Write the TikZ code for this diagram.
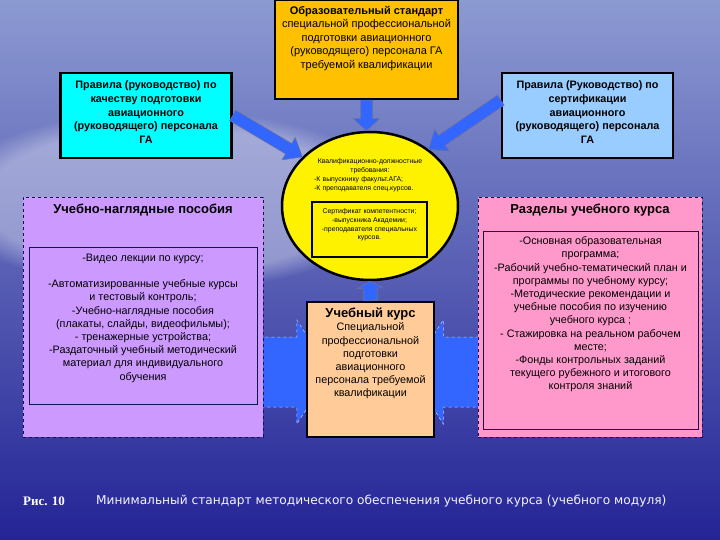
\documentclass[tikz,border=0pt]{standalone}
\usepackage{fontspec}
\setmainfont{Liberation Sans}
\newfontfamily\capfont{DejaVu Sans}
\newfontfamily\figfont{Liberation Serif}
\usetikzlibrary{positioning,calc,shapes.geometric,fadings}

\definecolor{bgtop}{RGB}{140,154,210}
\definecolor{bgmid}{RGB}{82,96,196}
\definecolor{bgbot}{RGB}{36,36,150}
\definecolor{arrblue}{RGB}{51,102,255}
\definecolor{stdorange}{RGB}{255,192,0}
\definecolor{qualcyan}{RGB}{0,255,255}
\definecolor{certblue}{RGB}{153,204,255}
\definecolor{aidlilac}{RGB}{204,153,255}
\definecolor{secpink}{RGB}{255,153,204}
\definecolor{coursepeach}{RGB}{255,204,153}
\definecolor{edgenavy}{RGB}{20,20,70}

\pgfdeclarelayer{sky}
\pgfdeclarelayer{behind}
\pgfsetlayers{sky,behind,main}

\tikzset{
  solidbox/.style={draw=black, line width=2.5pt, inner sep=0pt},
  dashbox/.style={draw=edgenavy, dashed, line width=0.8pt, inner sep=0pt},
  innerbox/.style={draw=edgenavy, line width=0.8pt, inner sep=0pt},
  boxtext/.style={align=center, inner sep=0pt, font=\fontsize{10.8}{13.2}\selectfont},
  ruletext/.style={align=center, inner sep=0pt, font=\bfseries\fontsize{10.8}{13.7}\selectfont},
  titletext/.style={align=center, inner sep=0pt, font=\bfseries\fontsize{13}{15}\selectfont},
  smalltext/.style={inner sep=0pt, font=\fontsize{6.9}{8.8}\selectfont},
  arrowfill/.style={fill=arrblue, draw=edgenavy!60, line width=0.5pt},
  sidearrow/.style={fill=arrblue, draw=white!70!arrblue, dashed, line width=0.5pt},
}

% from, to, shaft half width, head half width, head length
\newcommand\blockarrow[6][arrowfill]{%
  \coordinate (hb) at ($(#3)!#6!(#2)$);
  \filldraw[#1] ($(#2)!#4!90:(#3)$) -- ($(hb)!#4!90:(#3)$) -- ($(hb)!#5!90:(#3)$) -- (#3)
    -- ($(hb)!#5!-90:(#3)$) -- ($(hb)!#4!-90:(#3)$) -- ($(#2)!#4!-90:(#3)$) -- cycle;}

\begin{document}
\begin{tikzpicture}[x=1pt,y=-1pt]
\useasboundingbox (0,0) rectangle (720,540);
\begin{pgfonlayer}{sky}
\clip (0,0) rectangle (720,540);
\fill[top color=bgtop, middle color=bgmid, bottom color=bgbot] (0,0) rectangle (720,540);
\fill[white, opacity=0.35, path fading=circle with fuzzy edge 20 percent] (170,200) ellipse (230 and 90);
\end{pgfonlayer}

\node[solidbox, fill=stdorange, minimum width=183pt, minimum height=99pt] (std) at (366.5,49.5) {};
\node[solidbox, fill=qualcyan, minimum width=171pt, minimum height=85pt] (qual) at (146,115.5) {};
\node[solidbox, fill=certblue, minimum width=171pt, minimum height=85pt] (cert) at (587.5,115.5) {};
\node[ellipse, draw=black, line width=2.5pt, fill=yellow, minimum width=176pt, minimum height=148pt, inner sep=0pt] (req) at (370,206) {};
\node[innerbox, draw=black, line width=1.5pt, minimum width=115pt, minimum height=55pt] (certif) at (369.5,229.5) {};
\node[dashbox, fill=aidlilac, minimum width=240pt, minimum height=240pt] (aids) at (143,317) {};
\node[innerbox, minimum width=228pt, minimum height=157pt] (aidlist) at (143,325.5) {};
\node[dashbox, fill=secpink, minimum width=224pt, minimum height=240pt] (sect) at (590,317) {};
\node[innerbox, minimum width=215pt, minimum height=198pt] (sectlist) at (590.5,330) {};
\node[solidbox, fill=coursepeach, minimum width=127pt, minimum height=135pt] (course) at (370.5,369.5) {};

% side arrows, heads hidden under the course box
\begin{pgfonlayer}{behind}
\coordinate (ltail) at ($(aids.east)+(-10,55)$);
\coordinate (ltip) at ($(course.west)+(25,2.5)$);
\coordinate (rtail) at ($(sect.west)+(10,55)$);
\coordinate (rtip) at ($(course.east)+(-25,2.5)$);
\blockarrow[sidearrow]{ltail}{ltip}{35pt}{52pt}{34pt}
\blockarrow[sidearrow]{rtail}{rtip}{35pt}{52pt}{33pt}
\end{pgfonlayer}

\blockarrow{std.south}{std.south |- req.north}{6pt}{13pt}{12pt}
\blockarrow{qual.east}{req.144}{6pt}{13pt}{16pt}
\blockarrow{cert.170}{req.44}{6pt}{13pt}{16pt}
\blockarrow{course.north}{req.south}{7pt}{13pt}{7pt}

\node[boxtext, font=\fontsize{11}{13.5}\selectfont, below=7pt of std.north] (stdtext) {\textbf{Образовательный стандарт}\\специальной профессиональной\\подготовки авиационного\\(руководящего) персонала ГА\\требуемой квалификации};
\node[ruletext, below=9pt of qual.north] (qualtext) {Правила (руководство) по\\качеству подготовки\\авиационного\\(руководящего) персонала\\ГА};
\node[ruletext, below=9pt of cert.north] (certtext) {Правила (Руководство) по\\сертификации\\авиационного\\(руководящего) персонала\\ГА};
\node[smalltext, text width=112pt, below=28pt of req.north] (reqtext) {\parindent=0pt\centering Квалификационно-должностные\\требования:\par\raggedright -К выпускнику факульт.АГА;\\-К преподавателя спец.курсов.\par};
\node[smalltext, align=center, below=7pt of certif.north] (certiftext) {Сертификат компетентности;\\-выпускника Академии;\\-преподавателя специальных\\курсов.};
\node[titletext, below=7pt of aids.north] (aidstitle) {Учебно-наглядные пособия};
\node[boxtext, below=7pt of aidlist.north] (aidstext) {-Видео лекции по курсу;\\[13.2pt]-Автоматизированные учебные курсы\\и тестовый контроль;\\-Учебно-наглядные пособия\\(плакаты, слайды, видеофильмы);\\- тренажерные устройства;\\-Раздаточный учебный методический\\материал для индивидуального\\обучения};
\node[titletext, below=7pt of sect.north] (secttitle) {Разделы учебного курса};
\node[boxtext, below=6pt of sectlist.north] (secttext) {-Основная образовательная\\программа;\\-Рабочий  учебно-тематический план и\\программы по учебному курсу;\\-Методические рекомендации и\\учебные пособия по изучению\\учебного курса ;\\- Стажировка на реальном рабочем\\месте;\\-Фонды контрольных заданий\\текущего рубежного и итогового\\контроля знаний};
\node[boxtext, below=7pt of course.north] (coursetext) {{\bfseries\fontsize{13}{15}\selectfont Учебный курс}\\Специальной\\профессиональной\\подготовки\\авиационного\\персонала требуемой\\квалификации};

\node[font=\figfont\bfseries\fontsize{13}{15}\selectfont, text=white, anchor=west, inner sep=0pt] (fignum) at (23,501) {Рис. 10};
\node[font=\capfont\fontsize{12.2}{14}\selectfont, text=white!90!bgtop, anchor=west, inner sep=0pt] (caption) at (96,501) {Минимальный стандарт методического обеспечения учебного курса (учебного модуля)};
\end{tikzpicture}
\end{document}
